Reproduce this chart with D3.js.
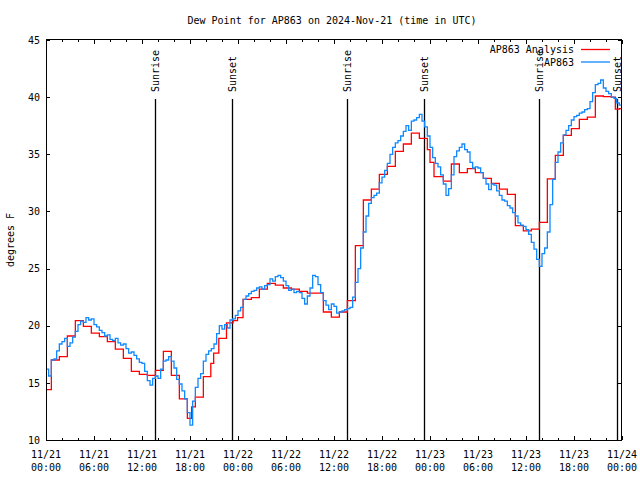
<!DOCTYPE html>
<html>
<head>
<meta charset="utf-8">
<script src="https://cdn.jsdelivr.net/npm/d3@7"></script>
<style>
  html, body { margin: 0; padding: 0; background: #ffffff; }
  svg { display: block; }
  text { font-family: "DejaVu Sans Mono", "Liberation Mono", monospace; font-size: 10px; fill: #000; }
</style>
</head>
<body>
<script>
// ---------------- DATA ----------------
const chartTitle = "Dew Point for AP863 on 2024-Nov-21 (time in UTC)";
const yLabel = "degrees F";
const startTime = "2024-11-21T00:00:00Z";
const endTime = "2024-11-24T00:00:00Z";
const yTickValues = [10, 15, 20, 25, 30, 35, 40, 45];

// Hourly analysis (step series): hours after start, value in degrees F
const analysisHours = [-0.33,0.67,1.67,2.67,3.67,4.67,5.67,6.67,7.67,8.67,9.67,10.67,11.67,12.67,13.67,14.67,15.67,16.67,17.67,18.2,18.67,19.67,20.6,20.96,21.6,22.56,23.38,23.94,24.63,25.67,26.67,27.67,28.67,29.67,30.67,31.67,32.67,33.67,34.67,35.67,36.67,37.67,38.67,39.67,40.67,41.67,42.67,43.67,44.67,45.67,46.67,47.67,48.0,48.5,49.67,50.67,51.67,52.67,53.67,54.67,55.67,56.67,57.67,58.67,59.67,60.67,61.67,62.67,63.67,64.67,65.67,66.67,67.67,68.67,69.67,70.67,71.17,71.67];
const analysisDewF = [14.4,17.0,17.3,19.1,20.45,19.95,19.35,19.05,18.6,17.95,17.15,16.0,15.75,15.65,16.1,17.75,15.65,13.6,11.9,12.9,13.75,15.55,16.7,17.6,18.9,20.25,20.45,20.7,22.3,22.45,23.2,23.7,23.55,23.3,23.2,23.0,22.85,22.85,21.2,20.75,21.2,22.2,27.0,31.0,31.95,33.25,33.95,35.25,35.9,36.85,36.4,35.4,34.3,33.05,32.65,34.15,33.4,33.75,33.4,32.9,32.45,31.95,31.5,28.75,28.3,28.45,29.05,32.85,34.9,36.65,37.25,38.05,38.25,40.1,40.05,40.0,38.95,39.0];

// Station observations every 20 minutes from start
const obsStepMinutes = 20;
const obsDewF = [
16.2,15.6,17.0, 17.1,17.8,18.4, 18.6,18.9,18.2, 18.5,19.0,19.5,
20.1,20.4,20.3, 20.7,20.5,20.6, 20.1,19.9,19.6, 19.4,19.1,19.2,
18.8,18.7,18.9, 18.5,18.3,18.4, 18.0,17.6,17.7, 17.4,17.1,16.8,
16.7,16.0,15.2, 14.8,15.4,15.6, 15.4,16.2,16.9, 17.0,17.3,16.9,
16.3,15.3,14.9, 14.3,13.6,12.4, 11.3,13.4,14.6, 15.4,15.8,16.9,
17.5,17.8,18.0, 18.4,19.3,20.0, 19.7,20.1,19.8, 20.5,20.6,20.9,
21.3,21.6,22.3, 22.6,22.8,23.0, 23.1,23.3,23.4, 23.2,23.5,23.6,
24.1,23.9,24.3, 24.4,24.2,23.9, 23.5,23.1,23.2, 22.9,23.0,22.9,
22.4,21.9,22.6, 23.3,24.4,24.3, 23.6,22.9,22.2, 21.8,21.4,21.9,
21.7,21.1,21.2, 21.3,21.4,21.5, 21.6,22.5,23.8, 25.0,26.8,28.2,
29.6,30.7,31.2, 31.4,31.6,32.5, 33.0,33.6,34.2, 35.0,35.6,36.0,
36.2,36.6,37.0, 37.5,37.1,37.9, 38.0,38.2,38.5, 37.9,37.4,36.6,
35.6,34.7,34.2, 33.9,33.2,32.4, 31.4,32.0,33.2, 34.8,35.3,35.6,
35.9,35.4,35.2, 34.3,33.8,33.9, 33.8,33.4,32.9, 32.4,31.9,32.4,
32.3,31.8,31.4, 31.0,30.9,30.5, 30.3,29.9,29.6, 29.0,28.8,28.7,
28.4,28.0,27.3, 26.7,25.8,25.2, 26.3,26.8,28.2, 30.6,32.8,34.3,
35.2,36.0,36.7, 37.1,37.5,38.0, 38.3,38.4,38.6, 38.7,38.9,39.0,
39.6,40.4,41.1, 41.2,41.5,40.8, 40.5,40.3,40.0, 39.9,39.5,39.3,
39.4];

const sunLabels = ["Sunrise","Sunset","Sunrise","Sunset","Sunrise","Sunset"];
const sunTimes = ["2024-11-21T13:40:00Z","2024-11-21T23:17:00Z","2024-11-22T13:40:00Z","2024-11-22T23:17:00Z","2024-11-23T13:40:00Z","2024-11-23T23:20:00Z"];

const seriesNames = ["AP863 Analysis", "AP863"];
const seriesColors = ["#ff0000", "#1088ff"];

// ---------------- DRAW ----------------
(function () {
const W = 640, H = 480;
const pL = 46, pR = 622, pT = 40, pB = 440;
const t0 = new Date(startTime), t1 = new Date(endTime);
const HOUR = 3600e3;

const x = d3.scaleUtc().domain([t0, t1]).range([pL, pR]);
const y = d3.scaleLinear().domain([10, 45]).range([pB, pT]);

const svg = d3.select("body").append("svg").attr("width", W).attr("height", H);

svg.append("defs").append("clipPath").attr("id", "plotclip")
  .append("rect").attr("x", pL).attr("y", pT).attr("width", pR - pL).attr("height", pB - pT);

svg.append("text").attr("x", 332).attr("y", 24).attr("text-anchor", "middle").text(chartTitle);
svg.append("text").attr("transform", "translate(10,240) rotate(-90)")
  .attr("text-anchor", "middle").attr("dy", "0.35em").text(yLabel);

const sunG = svg.append("g");
sunTimes.forEach((s, i) => {
  const xx = Math.round(x(new Date(s))) + 0.5;
  sunG.append("line").attr("x1", xx).attr("x2", xx).attr("y1", 99).attr("y2", pB)
    .attr("stroke", "#000").attr("stroke-width", 1.3);
  sunG.append("text").attr("transform", `translate(${xx},92) rotate(-90)`)
    .attr("dy", "0.36em").attr("text-anchor", "start").text(sunLabels[i]);
});

const analysis = analysisHours.map((h, i) => [new Date(t0.getTime() + h * HOUR), analysisDewF[i]]);
analysis.push([t1, analysisDewF[analysisDewF.length - 1]]);
const obs = obsDewF.map((v, i) => [new Date(t0.getTime() + i * obsStepMinutes * 60e3), v]);

const line = d3.line().x(d => x(d[0])).y(d => y(d[1])).curve(d3.curveStepAfter);
const dataG = svg.append("g").attr("clip-path", "url(#plotclip)");
dataG.append("path").datum(analysis).attr("d", line)
  .attr("fill", "none").attr("stroke", seriesColors[0]).attr("stroke-width", 1.3);
dataG.append("path").datum(obs).attr("d", line)
  .attr("fill", "none").attr("stroke", seriesColors[1]).attr("stroke-width", 1.3);

const major = x.ticks(d3.utcHour.every(6));
const minor = x.ticks(d3.utcHour.every(2)).filter(d => d.getUTCHours() % 6 !== 0);

function styleAxis(g) {
  g.select(".domain").remove();
  g.selectAll("line").attr("stroke", "#000").attr("shape-rendering", "crispEdges");
  g.attr("font-family", null).attr("font-size", null);
}
svg.append("g").attr("transform", `translate(0,${pB})`)
  .call(d3.axisBottom(x).tickValues(major).tickSize(-4).tickFormat("")).call(styleAxis);
svg.append("g").attr("transform", `translate(0,${pB})`)
  .call(d3.axisBottom(x).tickValues(minor).tickSize(-2).tickFormat("")).call(styleAxis);
svg.append("g").attr("transform", `translate(0,${pT})`)
  .call(d3.axisTop(x).tickValues(major).tickSize(-4).tickFormat("")).call(styleAxis);
svg.append("g").attr("transform", `translate(0,${pT})`)
  .call(d3.axisTop(x).tickValues(minor).tickSize(-2).tickFormat("")).call(styleAxis);

const yl = svg.append("g").attr("transform", `translate(${pL},0)`)
  .call(d3.axisLeft(y).tickValues(yTickValues).tickSize(-4).tickPadding(6).tickFormat(d3.format("d")))
  .call(styleAxis);
yl.selectAll("text").attr("fill", "#000");
svg.append("g").attr("transform", `translate(${pR},0)`)
  .call(d3.axisRight(y).tickValues(yTickValues).tickSize(-4).tickFormat("")).call(styleAxis);

const fmtDate = d3.utcFormat("%m/%d"), fmtTime = d3.utcFormat("%H:%M");
const xl = svg.append("g");
major.forEach(d => {
  const t = xl.append("text").attr("x", x(d)).attr("text-anchor", "middle");
  t.append("tspan").attr("x", x(d)).attr("y", 458).text(fmtDate(d));
  t.append("tspan").attr("x", x(d)).attr("y", 471).text(fmtTime(d));
});

svg.append("rect").attr("x", pL + 0.5).attr("y", pT - 0.5).attr("width", pR - pL - 1).attr("height", pB - pT + 1)
  .attr("fill", "none").attr("stroke", "#000").attr("stroke-width", 1).attr("shape-rendering", "crispEdges");

const lg = svg.append("g");
seriesNames.forEach((n, i) => {
  const yy = 49.5 + i * 12.5;
  lg.append("text").attr("x", 574).attr("y", yy).attr("dy", "0.35em").attr("text-anchor", "end").text(n);
  lg.append("line").attr("x1", 581).attr("x2", 610).attr("y1", yy).attr("y2", yy)
    .attr("stroke", seriesColors[i]).attr("stroke-width", 1.3);
});
})();
</script>
</body>
</html>
